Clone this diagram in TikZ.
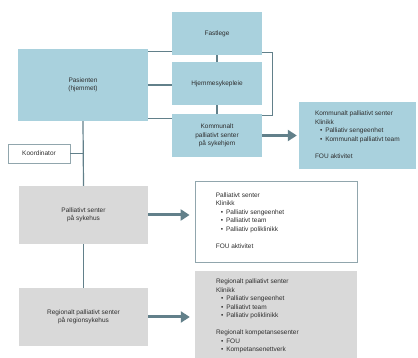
\documentclass[tikz,border=0pt]{standalone}
\usepackage{fontspec}
\setmainfont{Liberation Sans}
\usetikzlibrary{arrows.meta}
\definecolor{lblue}{HTML}{A9D1DD}
\definecolor{lgray}{HTML}{D9D9D9}
\definecolor{lline}{HTML}{62808A}
\definecolor{ltext}{HTML}{2E2E2E}
\newcommand{\bul}[1]{\hspace*{5pt}\textbullet\hspace{3pt}#1}
\begin{document}
\begin{tikzpicture}[x=1pt,y=-1pt,
  font=\fontsize{6.5}{8.5}\selectfont, text=ltext,
  bbox/.style={rectangle, inner sep=0pt, align=center},
  bluebox/.style={bbox, fill=lblue},
  graybox/.style={bbox, fill=lgray},
  conn/.style={draw=lline, line width=1.2pt},
  bigarrow/.style={draw=lline, line width=3pt, -{Triangle[length=9pt,width=11pt]}},
  listtext/.style={anchor=west, align=left, inner sep=0pt}]
\useasboundingbox (0,0) rectangle (418,358);

\node[bluebox, minimum width=130pt, minimum height=72pt] (pas) at (83,85) {Pasienten\\(hjemmet)};
\node[bluebox, minimum width=90pt, minimum height=43pt] (fast) at (217,33.5) {Fastlege};
\node[bluebox, minimum width=90pt, minimum height=43pt] (hjem) at (217,83.5) {Hjemmesykepleie};
\node[bluebox, minimum width=90pt, minimum height=43pt] (komm) at (217,135.5) {Kommunalt\\palliativt senter\\på sykehjem};
\node[bluebox, minimum width=117pt, minimum height=67pt] (rkomm) at (357.5,135.5) {};
\node[bbox, fill=white, draw=lline!70, line width=0.8pt, minimum width=62pt, minimum height=19pt] (koord) at (39,153.5) {Koordinator};
\node[graybox, minimum width=129pt, minimum height=58pt] (pal) at (83.5,215) {Palliativt senter\\på sykehus};
\node[graybox, minimum width=129pt, minimum height=58pt] (reg) at (83.5,317) {Regionalt palliativt senter\\på regionsykehus};
\node[bbox, fill=white, draw=lline!70, line width=0.8pt, minimum width=162pt, minimum height=81pt] (rpal) at (276,221.5) {};
\node[graybox, minimum width=162pt, minimum height=87pt] (rreg) at (276,314.5) {};

% texts in right boxes
\node[listtext] (tkomm) at ([xshift=16pt,yshift=1pt]rkomm.west) {Kommunalt palliativt senter\\Klinikk\\\bul{Palliativ sengeenhet}\\\bul{Kommunalt palliativt team}\\[8.5pt]FOU aktivitet};
\node[listtext] (tpal) at ([xshift=21pt,yshift=1pt]rpal.west) {Palliativt senter\\Klinikk\\\bul{Palliativ sengeenhet}\\\bul{Palliativt team}\\\bul{Palliativ poliklinikk}\\[8.5pt]FOU aktivitet};
\node[listtext] (treg) at ([xshift=21pt,yshift=-1.5pt]rreg.west) {Regionalt palliativt senter\\Klinikk\\\bul{Palliativ sengeenhet}\\\bul{Palliativt team}\\\bul{Palliativ poliklinikk}\\[8.5pt]Regionalt kompetansesenter\\\bul{FOU}\\\bul{Kompetansenettverk}};

% connectors
\draw[conn] ([yshift=-3pt]pas.north east) -- ([yshift=-3pt]pas.north east -| fast.west);
\draw[conn] (pas.east) -- (pas.east -| hjem.west);
\draw[conn] ([yshift=3pt]pas.south east) -- ([yshift=3pt]pas.south east -| komm.west);
\draw[conn] (fast.south) -- (hjem.north);
\draw[conn] (hjem.south) -- (komm.north);
\draw[conn, line width=0.9pt] ([yshift=3pt]fast.south east) -- ++(10pt,0) |- ([yshift=-2pt]komm.north east);
\draw[conn] (pas.south) -- (pal.north);
\draw[conn] (koord.east) -- (koord.east -| pas.south);
\draw[conn] (pal.south) -- (reg.north);

\draw[bigarrow, shorten >=2pt] (komm.east) -- (komm.east -| rkomm.west);
\draw[bigarrow, shorten >=5pt] (pal.east) -- (pal.east -| rpal.west);
\draw[bigarrow, shorten >=5pt] (reg.east) -- (reg.east -| rreg.west);
\end{tikzpicture}
\end{document}
